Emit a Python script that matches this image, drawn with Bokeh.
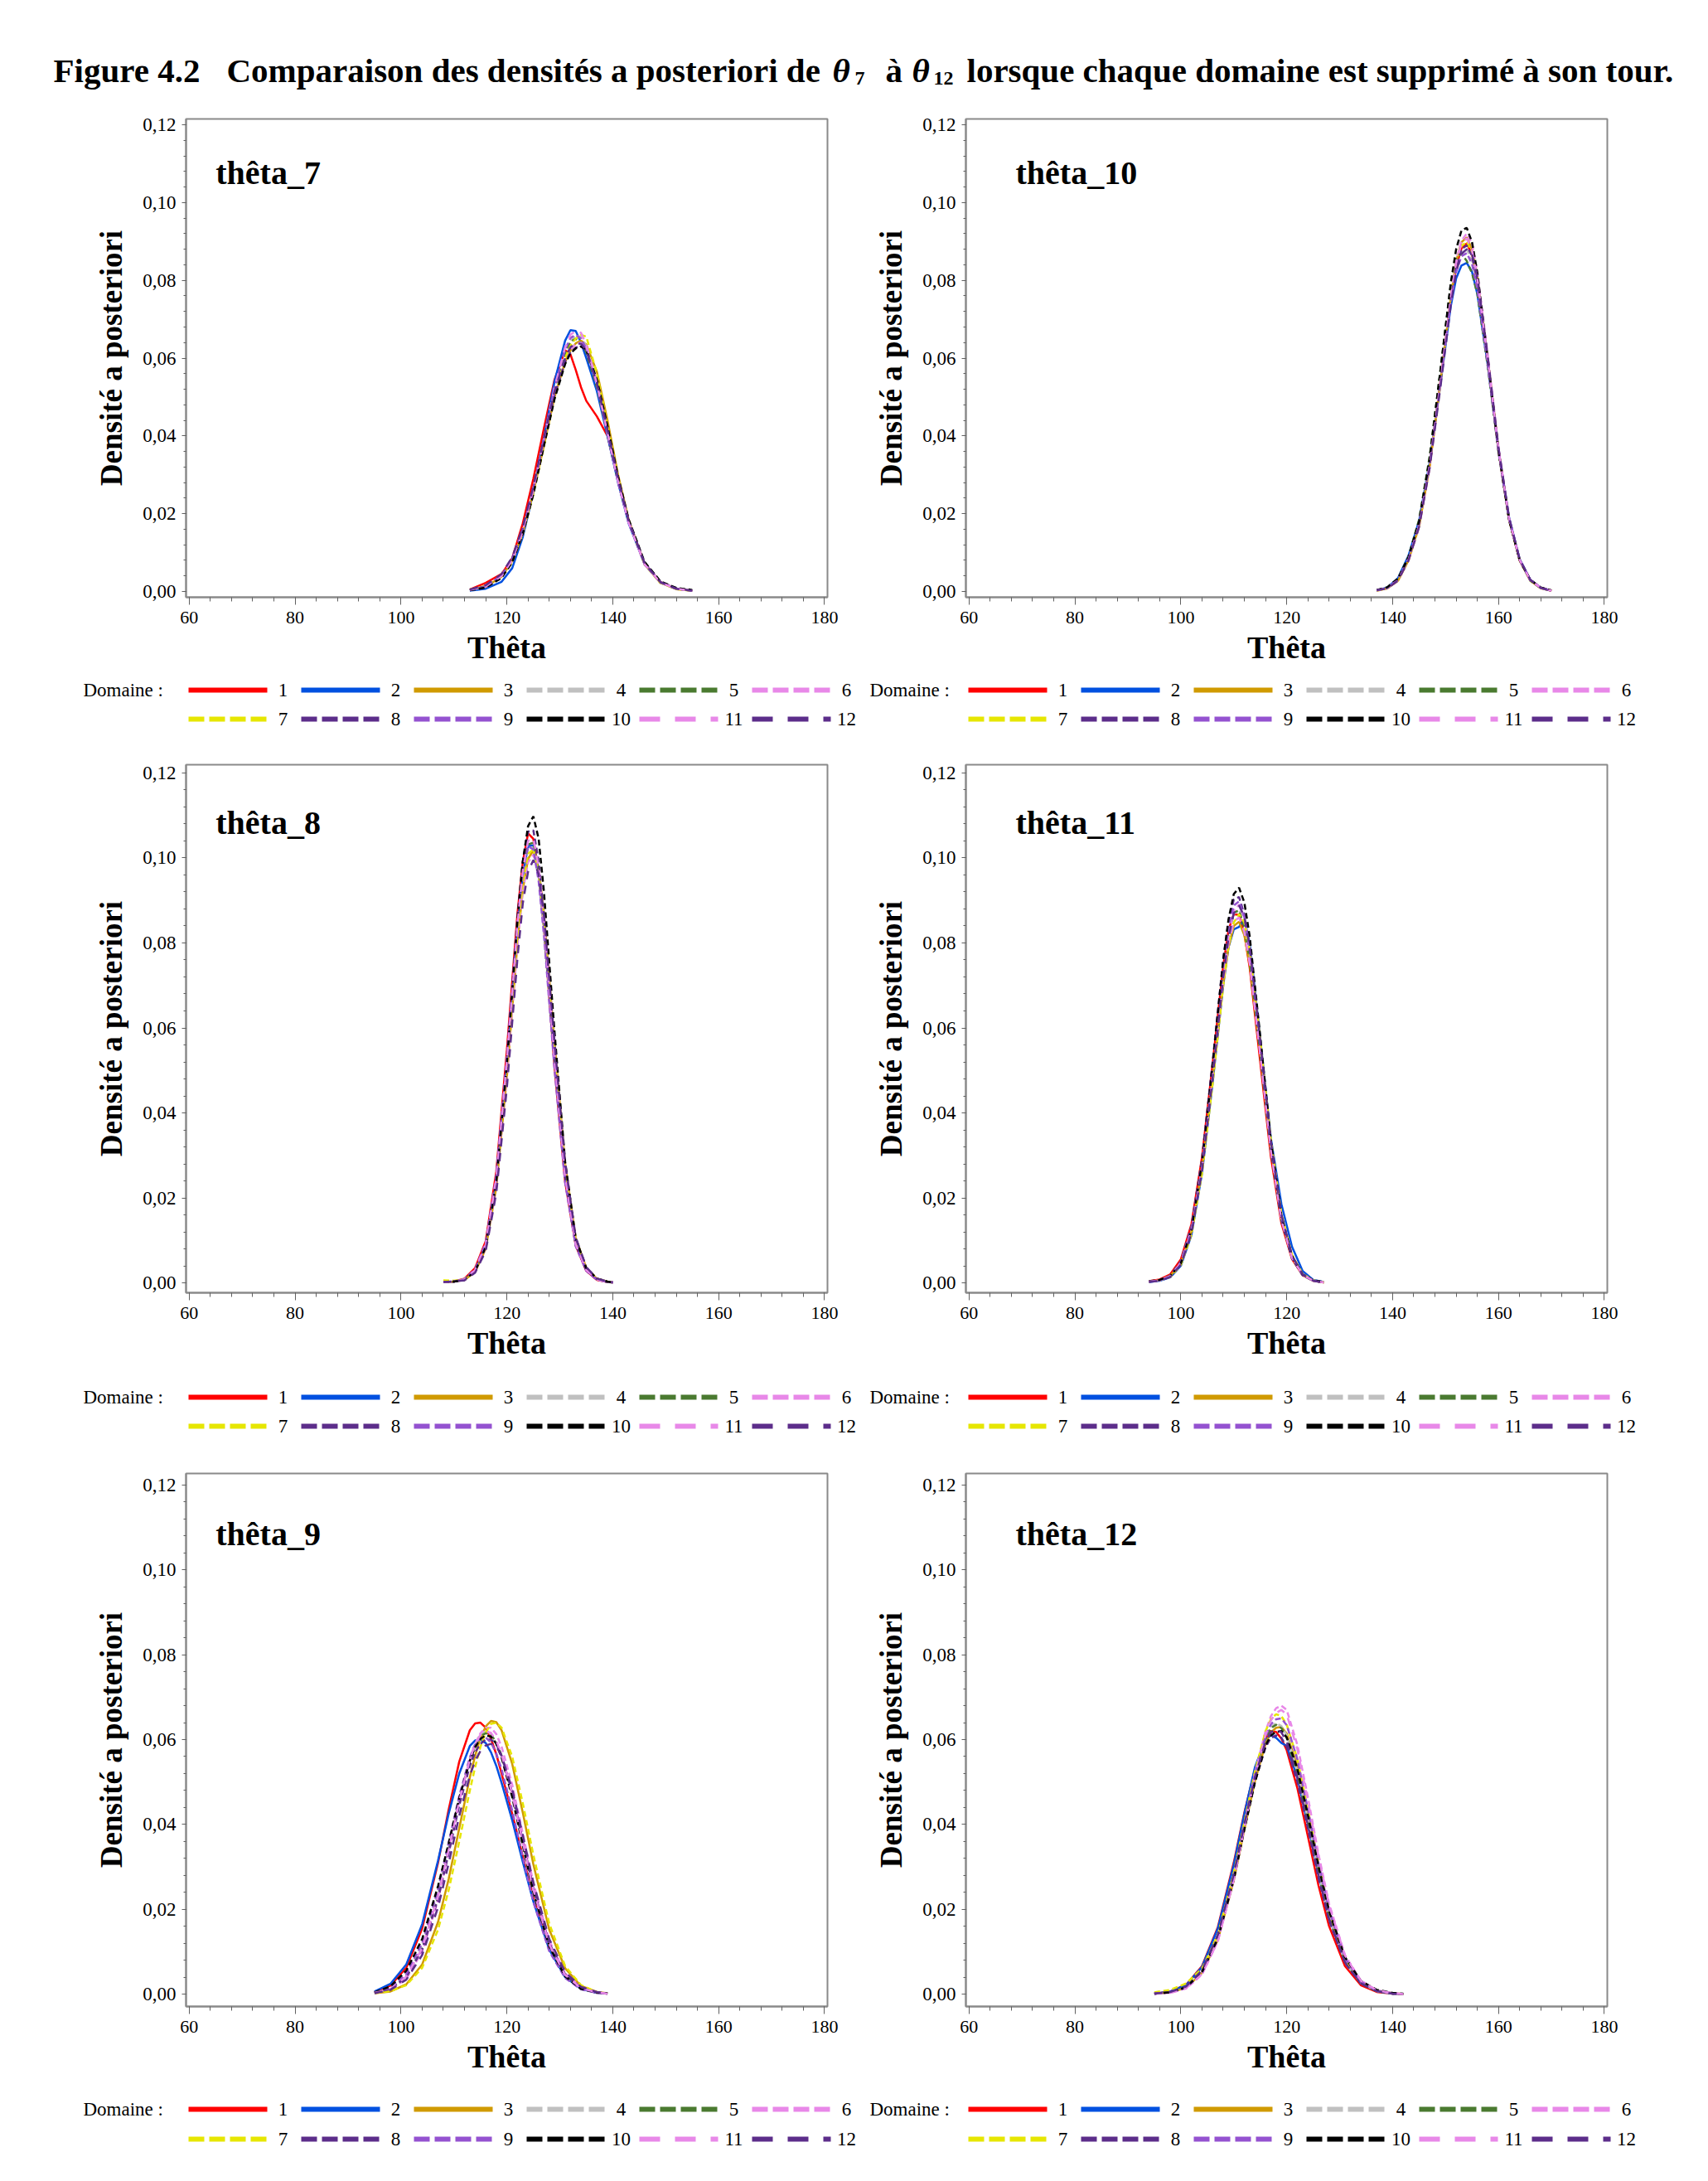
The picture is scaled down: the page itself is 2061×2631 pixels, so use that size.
from bokeh.plotting import figure
from bokeh.layouts import column, row
from bokeh.models import Range1d, FixedTicker, CustomJSTickFormatter, Label
from bokeh.embed import file_html
from bokeh.resources import INLINE
from bokeh.core.properties import value

FONT = "Liberation Serif"

# ---------------- data ----------------
DOMAINS = ["1", "2", "3", "4", "5", "6", "7", "8", "9", "10", "11", "12"]
COLORS = ["#FF0000", "#0050E0", "#D09A00", "#C0C0C0", "#4A7A30", "#E888E8",
          "#E6E600", "#5C2D8A", "#9452D0", "#000000", "#E888E8", "#5C2D8A"]
PLOT_DASH = ["solid", "solid", "solid", "7 4", "7 4", "7 4", "7 4", "7 4",
             "7 4", "7 4", "10 8", "10 8"]
LEGEND_DASH = ["solid", "solid", "solid", "19 6", "19 6", "19 6", "19 6",
               "19 6", "19 6", "19 6", "25 18", "25 18"]

X_TICKS = [60, 80, 100, 120, 140, 160, 180]
Y_TICKS = [0.0, 0.02, 0.04, 0.06, 0.08, 0.10, 0.12]

theta7_x = [113, 116, 119, 121, 123, 125, 127, 129, 131, 132, 133, 134, 135, 137, 139, 141, 143, 146, 149, 152, 155]
theta7_y = [
    [.0005, .0022, .0045, .0085, .0175, .0290, .0420, .0545, .0620, .0610, .0570, .0525, .0490, .0450, .0400, .0285, .0180, .0072, .0024, .0007, .0002],
    [.0002, .0007, .0025, .0060, .0140, .0255, .0395, .0540, .0645, .0672, .0670, .0640, .0600, .0515, .0400, .0280, .0175, .0070, .0023, .0007, .0002],
    [.0004, .0012, .0038, .0078, .0150, .0255, .0375, .0500, .0590, .0620, .0638, .0645, .0635, .0565, .0440, .0300, .0185, .0070, .0022, .0006, .0002],
    [.0004, .0012, .0038, .0078, .0150, .0255, .0385, .0515, .0615, .0645, .0658, .0655, .0630, .0535, .0410, .0285, .0178, .0070, .0023, .0007, .0002],
    [.0004, .0013, .0040, .0082, .0158, .0265, .0392, .0520, .0612, .0642, .0650, .0640, .0615, .0525, .0405, .0282, .0178, .0071, .0023, .0007, .0002],
    [.0004, .0014, .0042, .0085, .0160, .0262, .0385, .0505, .0595, .0622, .0636, .0640, .0625, .0540, .0415, .0290, .0182, .0073, .0024, .0007, .0002],
    [.0005, .0014, .0038, .0075, .0148, .0250, .0375, .0500, .0600, .0632, .0650, .0660, .0655, .0560, .0425, .0292, .0180, .0070, .0022, .0006, .0002],
    [.0004, .0013, .0042, .0085, .0162, .0265, .0388, .0505, .0590, .0615, .0627, .0630, .0620, .0540, .0420, .0292, .0183, .0074, .0025, .0008, .0002],
    [.0004, .0012, .0040, .0080, .0155, .0262, .0392, .0525, .0622, .0652, .0660, .0650, .0625, .0530, .0405, .0280, .0176, .0070, .0023, .0007, .0002],
    [.0003, .0010, .0035, .0075, .0148, .0250, .0375, .0495, .0585, .0612, .0625, .0630, .0622, .0545, .0425, .0295, .0185, .0076, .0026, .0009, .0004],
    [.0004, .0013, .0040, .0080, .0155, .0262, .0392, .0525, .0628, .0660, .0670, .0665, .0635, .0535, .0408, .0282, .0177, .0070, .0023, .0007, .0002],
    [.0005, .0016, .0045, .0088, .0165, .0270, .0395, .0515, .0600, .0628, .0638, .0637, .0620, .0535, .0415, .0290, .0182, .0073, .0024, .0007, .0002],
]

theta10_x = [137, 139, 141, 143, 145, 147, 149, 151, 152, 153, 154, 155, 156, 158, 160, 162, 164, 166, 168, 170]
theta10_y = [
    [.0003, .0009, .0029, .0082, .0170, .0325, .0535, .0752, .0835, .0882, .0895, .0866, .0795, .0588, .0362, .0185, .0080, .0029, .0009, .0002],
    [.0003, .0010, .0034, .0092, .0182, .0332, .0530, .0735, .0805, .0838, .0845, .0822, .0765, .0580, .0365, .0190, .0083, .0030, .0009, .0002],
    [.0002, .0008, .0027, .0080, .0168, .0322, .0535, .0760, .0848, .0898, .0910, .0880, .0808, .0595, .0365, .0185, .0080, .0028, .0008, .0002],
    [.0003, .0009, .0030, .0085, .0175, .0330, .0538, .0750, .0828, .0872, .0880, .0850, .0785, .0585, .0362, .0187, .0082, .0029, .0009, .0002],
    [.0003, .0010, .0032, .0090, .0185, .0348, .0565, .0790, .0860, .0868, .0850, .0818, .0765, .0575, .0358, .0184, .0080, .0028, .0008, .0002],
    [.0002, .0008, .0027, .0078, .0165, .0318, .0530, .0758, .0850, .0902, .0920, .0895, .0822, .0605, .0370, .0188, .0081, .0029, .0009, .0002],
    [.0002, .0008, .0028, .0080, .0168, .0322, .0532, .0755, .0840, .0888, .0900, .0870, .0800, .0592, .0365, .0186, .0081, .0029, .0009, .0002],
    [.0003, .0009, .0030, .0084, .0173, .0328, .0537, .0752, .0835, .0880, .0890, .0862, .0795, .0590, .0364, .0187, .0082, .0030, .0009, .0002],
    [.0003, .0009, .0031, .0086, .0176, .0330, .0535, .0745, .0822, .0862, .0870, .0842, .0778, .0580, .0360, .0186, .0082, .0030, .0009, .0002],
    [.0004, .0011, .0033, .0088, .0180, .0342, .0565, .0795, .0880, .0928, .0935, .0898, .0820, .0595, .0362, .0184, .0080, .0030, .0010, .0003],
    [.0003, .0009, .0029, .0082, .0170, .0325, .0535, .0758, .0845, .0895, .0908, .0878, .0805, .0594, .0366, .0187, .0081, .0029, .0009, .0002],
    [.0003, .0008, .0028, .0080, .0166, .0318, .0522, .0738, .0822, .0868, .0880, .0868, .0808, .0600, .0370, .0190, .0083, .0030, .0009, .0002],
]

theta8_x = [108, 110, 112, 114, 116, 118, 120, 122, 123, 124, 125, 126, 127, 129, 131, 133, 135, 137, 139, 140]
theta8_y = [
    [.0002, .0003, .0010, .0035, .0098, .0262, .0548, .0870, .0990, .1058, .1045, .0965, .0835, .0508, .0238, .0088, .0028, .0007, .0002, .0001],
    [.0002, .0003, .0008, .0028, .0086, .0238, .0512, .0832, .0958, .1028, .1030, .0962, .0838, .0520, .0250, .0094, .0032, .0009, .0002, .0001],
    [.0002, .0003, .0007, .0026, .0080, .0225, .0485, .0800, .0925, .0998, .1018, .0975, .0870, .0565, .0280, .0105, .0035, .0010, .0003, .0001],
    [.0002, .0003, .0008, .0029, .0088, .0240, .0512, .0828, .0952, .1020, .1025, .0960, .0838, .0522, .0248, .0091, .0030, .0008, .0002, .0001],
    [.0002, .0003, .0008, .0030, .0090, .0244, .0518, .0838, .0962, .1032, .1036, .0968, .0845, .0523, .0247, .0090, .0030, .0008, .0002, .0001],
    [.0002, .0003, .0007, .0027, .0082, .0228, .0488, .0795, .0922, .0990, .1008, .0962, .0855, .0545, .0265, .0098, .0033, .0009, .0002, .0001],
    [.0006, .0005, .0009, .0030, .0088, .0238, .0505, .0820, .0940, .1010, .1020, .0965, .0848, .0535, .0258, .0096, .0033, .0009, .0002, .0001],
    [.0002, .0003, .0008, .0030, .0091, .0250, .0530, .0860, .0990, .1062, .1065, .0993, .0865, .0532, .0250, .0090, .0029, .0008, .0002, .0001],
    [.0002, .0003, .0009, .0032, .0094, .0253, .0532, .0848, .0965, .1028, .1020, .0945, .0818, .0502, .0235, .0086, .0028, .0007, .0002, .0001],
    [.0002, .0003, .0007, .0027, .0084, .0236, .0515, .0855, .0992, .1075, .1098, .1045, .0920, .0590, .0285, .0105, .0035, .0010, .0003, .0001],
    [.0002, .0003, .0008, .0030, .0090, .0246, .0522, .0845, .0970, .1040, .1046, .0978, .0852, .0528, .0250, .0091, .0030, .0008, .0002, .0001],
    [.0002, .0003, .0006, .0024, .0075, .0212, .0460, .0765, .0893, .0968, .0995, .0962, .0865, .0565, .0282, .0107, .0037, .0010, .0003, .0001],
]

theta11_x = [94, 96, 98, 100, 102, 104, 106, 108, 109, 110, 111, 112, 113, 115, 117, 119, 121, 123, 125, 127]
theta11_y = [
    [.0004, .0008, .0020, .0055, .0138, .0295, .0515, .0745, .0830, .0868, .0866, .0822, .0742, .0520, .0298, .0140, .0056, .0018, .0005, .0001],
    [.0002, .0005, .0013, .0040, .0112, .0258, .0470, .0700, .0790, .0832, .0838, .0855, .0800, .0575, .0340, .0185, .0085, .0028, .0007, .0002],
    [.0003, .0006, .0016, .0046, .0120, .0268, .0480, .0705, .0790, .0840, .0850, .0818, .0750, .0540, .0318, .0153, .0062, .0020, .0005, .0001],
    [.0003, .0006, .0016, .0047, .0124, .0275, .0495, .0727, .0815, .0868, .0879, .0844, .0770, .0548, .0318, .0151, .0060, .0019, .0005, .0001],
    [.0003, .0006, .0017, .0050, .0130, .0284, .0505, .0735, .0822, .0872, .0876, .0836, .0760, .0538, .0310, .0147, .0058, .0018, .0005, .0001],
    [.0003, .0006, .0015, .0045, .0120, .0270, .0490, .0725, .0818, .0875, .0890, .0860, .0788, .0562, .0327, .0155, .0062, .0020, .0005, .0001],
    [.0003, .0006, .0014, .0042, .0113, .0258, .0468, .0698, .0790, .0848, .0868, .0848, .0785, .0572, .0338, .0162, .0066, .0021, .0006, .0001],
    [.0003, .0006, .0016, .0050, .0133, .0292, .0520, .0760, .0850, .0902, .0908, .0866, .0786, .0555, .0318, .0148, .0058, .0018, .0005, .0001],
    [.0003, .0006, .0016, .0049, .0128, .0284, .0508, .0745, .0836, .0888, .0898, .0861, .0785, .0558, .0323, .0153, .0061, .0019, .0005, .0001],
    [.0004, .0007, .0016, .0046, .0124, .0282, .0512, .0760, .0855, .0915, .0930, .0895, .0816, .0580, .0335, .0158, .0063, .0020, .0006, .0002],
    [.0003, .0006, .0016, .0047, .0123, .0272, .0486, .0712, .0798, .0850, .0860, .0825, .0752, .0536, .0311, .0148, .0059, .0019, .0005, .0001],
    [.0002, .0005, .0014, .0043, .0116, .0264, .0482, .0718, .0812, .0870, .0888, .0862, .0792, .0570, .0334, .0160, .0064, .0020, .0005, .0001],
]

theta9_x = [95, 98, 101, 104, 107, 109, 111, 113, 114, 115, 116, 117, 118, 119, 121, 123, 125, 128, 131, 134, 137, 139]
theta9_y = [
    [.0005, .0020, .0062, .0155, .0310, .0435, .0548, .0622, .0638, .0640, .0628, .0602, .0565, .0520, .0425, .0325, .0228, .0110, .0042, .0013, .0003, .0001],
    [.0006, .0024, .0070, .0165, .0315, .0425, .0520, .0585, .0598, .0600, .0592, .0570, .0538, .0498, .0410, .0312, .0218, .0105, .0040, .0012, .0003, .0001],
    [.0002, .0006, .0023, .0070, .0170, .0271, .0391, .0511, .0562, .0604, .0631, .0644, .0641, .0622, .0543, .0428, .0306, .0152, .0061, .0019, .0005, .0002],
    [.0003, .0013, .0043, .0112, .0237, .0347, .0461, .0557, .0591, .0613, .0620, .0613, .0591, .0557, .0461, .0347, .0237, .0112, .0043, .0013, .0003, .0001],
    [.0003, .0012, .0040, .0106, .0228, .0337, .0452, .0550, .0586, .0608, .0615, .0612, .0593, .0562, .0470, .0356, .0245, .0117, .0045, .0014, .0004, .0001],
    [.0002, .0010, .0036, .0100, .0222, .0333, .0450, .0552, .0590, .0615, .0628, .0628, .0613, .0583, .0494, .0378, .0262, .0126, .0049, .0015, .0004, .0001],
    [.0002, .0007, .0021, .0062, .0152, .0245, .0360, .0480, .0535, .0583, .0617, .0637, .0640, .0628, .0560, .0450, .0328, .0166, .0066, .0021, .0005, .0001],
    [.0003, .0012, .0040, .0105, .0225, .0332, .0445, .0538, .0570, .0590, .0600, .0600, .0590, .0562, .0475, .0362, .0250, .0120, .0047, .0015, .0004, .0001],
    [.0004, .0015, .0047, .0120, .0247, .0357, .0467, .0558, .0588, .0603, .0605, .0593, .0567, .0530, .0433, .0322, .0217, .0101, .0038, .0011, .0003, .0001],
    [.0004, .0018, .0055, .0130, .0255, .0355, .0462, .0550, .0582, .0602, .0610, .0607, .0590, .0558, .0466, .0352, .0240, .0112, .0042, .0012, .0004, .0002],
    [.0003, .0012, .0041, .0108, .0230, .0340, .0455, .0553, .0589, .0611, .0619, .0616, .0597, .0565, .0472, .0358, .0246, .0117, .0045, .0014, .0004, .0001],
    [.0002, .0010, .0034, .0092, .0205, .0308, .0420, .0515, .0550, .0573, .0586, .0590, .0584, .0562, .0483, .0375, .0263, .0130, .0052, .0017, .0005, .0001],
]

theta12_x = [95, 98, 101, 104, 107, 110, 112, 114, 116, 117, 118, 119, 120, 122, 124, 126, 128, 131, 134, 137, 140, 142]
theta12_y = [
    [.0001, .0006, .0022, .0066, .0158, .0310, .0428, .0530, .0603, .0620, .0618, .0602, .0575, .0486, .0372, .0256, .0160, .0066, .0021, .0005, .0001, .0000],
    [.0001, .0006, .0021, .0064, .0155, .0305, .0425, .0535, .0600, .0610, .0604, .0592, .0585, .0510, .0400, .0283, .0180, .0077, .0026, .0007, .0001, .0000],
    [.0001, .0004, .0015, .0050, .0128, .0268, .0388, .0502, .0590, .0617, .0628, .0630, .0614, .0537, .0423, .0300, .0192, .0082, .0028, .0008, .0002, .0000],
    [.0001, .0004, .0016, .0053, .0136, .0282, .0403, .0519, .0606, .0630, .0639, .0632, .0610, .0526, .0410, .0288, .0182, .0077, .0026, .0007, .0001, .0000],
    [.0001, .0004, .0017, .0055, .0139, .0284, .0405, .0519, .0604, .0627, .0635, .0627, .0604, .0519, .0404, .0283, .0179, .0076, .0025, .0007, .0001, .0000],
    [.0001, .0003, .0013, .0046, .0125, .0271, .0396, .0522, .0620, .0655, .0674, .0680, .0670, .0588, .0464, .0330, .0213, .0092, .0032, .0009, .0002, .0000],
    [.0004, .0010, .0025, .0060, .0140, .0285, .0405, .0525, .0620, .0648, .0660, .0655, .0635, .0555, .0435, .0308, .0196, .0083, .0028, .0008, .0002, .0000],
    [.0001, .0004, .0016, .0053, .0134, .0275, .0392, .0501, .0582, .0604, .0610, .0604, .0582, .0501, .0391, .0274, .0174, .0074, .0025, .0007, .0001, .0000],
    [.0001, .0004, .0015, .0051, .0132, .0276, .0400, .0518, .0608, .0636, .0648, .0650, .0634, .0554, .0436, .0309, .0198, .0085, .0029, .0008, .0002, .0000],
    [.0001, .0004, .0016, .0052, .0131, .0270, .0388, .0500, .0586, .0610, .0618, .0620, .0605, .0532, .0422, .0302, .0196, .0087, .0031, .0010, .0003, .0001],
    [.0001, .0003, .0014, .0047, .0125, .0269, .0392, .0515, .0611, .0645, .0663, .0670, .0659, .0578, .0456, .0325, .0210, .0091, .0031, .0009, .0002, .0000],
    [.0001, .0005, .0018, .0056, .0140, .0282, .0400, .0512, .0595, .0617, .0625, .0617, .0595, .0512, .0398, .0280, .0177, .0075, .0025, .0007, .0001, .0000],
]

PANEL_LABELS = ["thêta_7", "thêta_10", "thêta_8", "thêta_11", "thêta_9", "thêta_12"]

# ---------------- layout geometry (pixels) ----------------
TOTAL_W = 2061
X_START, X_END = 59.4, 180.55
COLS = [  # width, border_left, border_right, label offset (data units)
    dict(width=1030, bl=224, br=32, lab_x=65.0),
    dict(width=1031, bl=135, br=122, lab_x=68.8),
]
ROWS = [  # height, border_top, border_bottom, y range, label baseline
    dict(height=687, bt=18, bb=92, y0=-0.00149, y1=0.12149, lab_y=0.1076),
    dict(height=751, bt=22, bb=92, y0=-0.00234, y1=0.12195, lab_y=0.1083),
    dict(height=752, bt=17, bb=92, y0=-0.00293, y1=0.12274, lab_y=0.1085),
]
LEGENDS = [  # height, row1 y, row2 y
    dict(height=88, r=(20, 55)),
    dict(height=109, r=(34, 69)),
    dict(height=119, r=(32, 68)),
]
TITLE_H = 125

fmt = CustomJSTickFormatter(code="return tick.toFixed(2).replace('.', ',');")


def make_panel(label, xs, ys, c, r):
    cs, rs = COLS[c], ROWS[r]
    p = figure(width=cs["width"], height=rs["height"],
               x_range=Range1d(X_START, X_END), y_range=Range1d(rs["y0"], rs["y1"]),
               output_backend="svg", toolbar_location=None,
               min_border_left=cs["bl"], min_border_right=cs["br"],
               min_border_top=rs["bt"], min_border_bottom=rs["bb"])
    p.grid.visible = False
    p.background_fill_color = "white"
    p.border_fill_color = "white"
    p.outline_line_color = "#8A8A8A"
    p.outline_line_width = 2
    p.xaxis.ticker = FixedTicker(ticks=X_TICKS, minor_ticks=list(range(60, 181, 4)))
    p.yaxis.ticker = FixedTicker(ticks=Y_TICKS, minor_ticks=[round(i * 0.004, 3) for i in range(31)])
    p.yaxis.formatter = fmt
    p.xaxis.axis_label = "Thêta"
    p.yaxis.axis_label = "Densité a posteriori"
    for ax in (p.xaxis, p.yaxis):
        ax.axis_line_color = "#8A8A8A"
        ax.axis_line_width = 2
        ax.major_tick_line_color = "#606060"
        ax.minor_tick_line_color = "#606060"
        ax.major_tick_in = 0
        ax.minor_tick_in = 0
        ax.major_label_text_font = FONT
        ax.major_label_text_font_size = "22px"
        ax.major_label_text_color = "black"
        ax.axis_label_text_font = FONT
        ax.axis_label_text_font_style = "bold"
        ax.axis_label_text_color = "black"
    p.yaxis.major_label_text_font_size = "23px"
    p.xaxis.axis_label_text_font_size = "38px"
    p.yaxis.axis_label_text_font_size = "37px"
    p.xaxis.major_tick_out = 9
    p.xaxis.minor_tick_out = 5
    p.yaxis.major_tick_out = 5
    p.yaxis.minor_tick_out = 3
    p.xaxis.major_label_standoff = 8
    p.yaxis.major_label_standoff = 7
    p.xaxis.axis_label_standoff = 5
    p.yaxis.axis_label_standoff = 14
    for i in range(len(DOMAINS)):
        n = min(len(xs), len(ys[i]))
        p.line(xs[:n], ys[i][:n], line_color=COLORS[i], line_width=2.5,
               line_dash=PLOT_DASH[i])
    p.add_layout(Label(x=cs["lab_x"], y=rs["lab_y"], text=label, text_font=FONT,
                       text_font_size="40px", text_font_style="bold",
                       text_baseline="alphabetic", text_color="black"))
    return p


def blank(height):
    f = figure(width=TOTAL_W, height=height, x_range=Range1d(0, TOTAL_W),
               y_range=Range1d(height, 0), output_backend="svg",
               toolbar_location=None, x_axis_location=None, y_axis_location=None,
               min_border=0)
    f.grid.visible = False
    f.outline_line_color = None
    f.background_fill_color = "white"
    f.border_fill_color = "white"
    return f


def make_legend(spec):
    f = blank(spec["height"])
    ry = spec["r"]
    for dx, sx in ((100, 227), (1049, 1168)):
        f.text(x=[dx], y=[ry[0]], text=["Domaine :"], text_font=value(FONT),
               text_font_size="23px", text_baseline="middle", text_align="left",
               text_color="black")
        for i, d in enumerate(DOMAINS):
            x0 = sx + (i % 6) * 136
            yy = ry[i // 6]
            f.line([x0, x0 + 95], [yy, yy], line_color=COLORS[i], line_width=6,
                   line_dash=LEGEND_DASH[i])
            f.text(x=[x0 + 95 + 19], y=[yy], text=[d], text_font=value(FONT),
                   text_font_size="23px", text_baseline="middle",
                   text_align="center", text_color="black")
    return f


def make_title():
    f = blank(TITLE_H)
    parts = [
        (64, 84, "Figure 4.2", "41px", "bold"),
        (273, 84, "Comparaison des densités a posteriori de", "41px", "bold"),
        (1004, 84, "θ", "41px", "bold italic"),
        (1031, 94, "7", "24px", "bold"),
        (1068, 84, "à", "41px", "bold"),
        (1100, 84, "θ", "41px", "bold italic"),
        (1126, 94, "12", "24px", "bold"),
        (1166, 84, "lorsque chaque domaine est supprimé à son tour.", "41px", "bold"),
    ]
    for x, y, t, sz, st in parts:
        f.text(x=[x], y=[y], text=[t], text_font=value(FONT), text_font_size=sz,
               text_font_style=st, text_baseline="alphabetic", text_align="left",
               text_color="black")
    return f


data = [(theta7_x, theta7_y), (theta10_x, theta10_y),
        (theta8_x, theta8_y), (theta11_x, theta11_y),
        (theta9_x, theta9_y), (theta12_x, theta12_y)]

children = [make_title()]
for r in range(3):
    panels = []
    for c in range(2):
        k = r * 2 + c
        xs, ys = data[k]
        panels.append(make_panel(PANEL_LABELS[k], xs, ys, c, r))
    children.append(row(*panels, spacing=0))
    children.append(make_legend(LEGENDS[r]))

layout = column(*children, spacing=0)

open("out.html", "w").write(file_html(layout, INLINE))
